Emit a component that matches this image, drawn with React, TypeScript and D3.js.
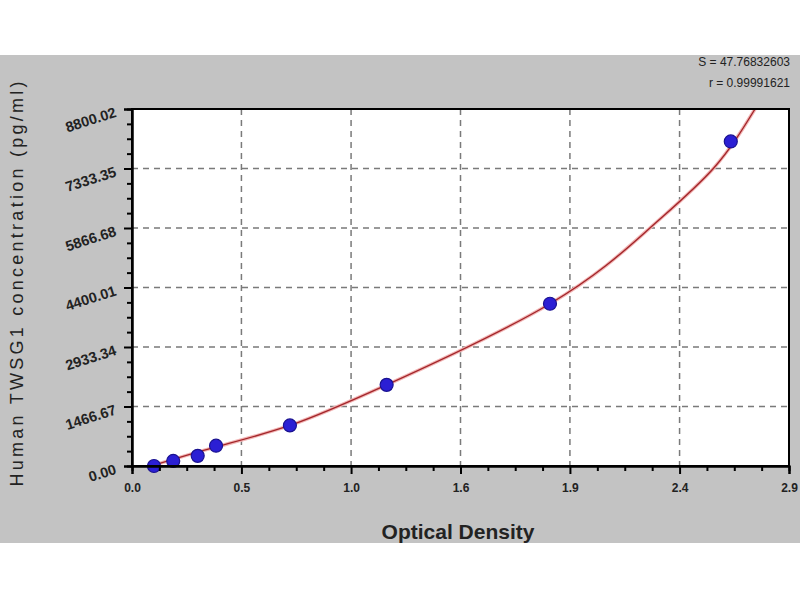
import React, { useEffect, useRef } from "react";
import * as d3 from "d3";

// Standard points (optical density vs concentration)
const odValues = [0.097, 0.182, 0.29, 0.371, 0.697, 1.124, 1.845, 2.643];
const concValues = [0, 125, 250, 500, 1000, 2000, 4000, 8000];

// Fitted curve (ends where it leaves the top of the plot)
const fitOd = [0.097, 0.371, 0.697, 1.124, 1.845, 2.286, 2.566, 2.75];
const fitConc = [20, 470, 1000, 2000, 4000, 5866, 7333, 8800.02];

// Axis ticks
const xTickValues = [0, 0.483, 0.967, 1.45, 1.933, 2.417, 2.9];
const xTickLabels = ["0.0", "0.5", "1.0", "1.6", "1.9", "2.4", "2.9"];
const yTickValues = [0, 1466.67, 2933.34, 4400.01, 5866.68, 7333.35, 8800.02];
const yTickLabels = ["0.00", "1466.67", "2933.34", "4400.01", "5866.68", "7333.35", "8800.02"];

const statLines = ["S = 47.76832603", "r = 0.99991621"];

const App: React.FC = () => {
  const svgRef = useRef<SVGSVGElement | null>(null);

  useEffect(() => {
    const width = 800;
    const height = 600;
    const plot = { left: 132, top: 109, right: 789, bottom: 466 };

    const svg = d3.select(svgRef.current).attr("width", width).attr("height", height);
    svg.selectAll("*").remove();

    // gray frame background
    svg.append("rect").attr("x", 0).attr("y", 0).attr("width", width).attr("height", height).attr("fill", "#fff");
    svg.append("rect").attr("x", 0).attr("y", 55).attr("width", width).attr("height", 488).attr("fill", "#c3c3c3");
    svg
      .append("rect")
      .attr("x", plot.left)
      .attr("y", plot.top)
      .attr("width", plot.right - plot.left)
      .attr("height", plot.bottom - plot.top)
      .attr("fill", "#fff");

    const xScale = d3.scaleLinear().domain([0, 2.9]).range([plot.left, plot.right]);
    const yScale = d3.scaleLinear().domain([0, 8800.02]).range([plot.bottom, plot.top]);

    // dashed grid
    const grid = svg.append("g").attr("stroke", "#7a7a7a").attr("stroke-width", 1.5).attr("stroke-dasharray", "6,5");
    xTickValues.slice(1, -1).forEach((v) => {
      grid.append("line").attr("x1", xScale(v)).attr("x2", xScale(v)).attr("y1", plot.top).attr("y2", plot.bottom);
    });
    yTickValues.slice(1, -1).forEach((v) => {
      grid.append("line").attr("x1", plot.left).attr("x2", plot.right).attr("y1", yScale(v)).attr("y2", yScale(v));
    });

    // fitted curve
    const fitData = fitOd.map((d, i) => [d, fitConc[i]] as [number, number]);
    const line = d3
      .line<[number, number]>()
      .x((d) => xScale(d[0]))
      .y((d) => yScale(d[1]))
      .curve(d3.curveNatural);
    svg.append("path").datum(fitData).attr("fill", "none").attr("stroke", "#f2b6b6").attr("stroke-width", 3.5).attr("d", line);
    svg.append("path").datum(fitData).attr("fill", "none").attr("stroke", "#a3262a").attr("stroke-width", 1.4).attr("d", line);

    // standard points
    svg
      .append("g")
      .selectAll("circle")
      .data(odValues)
      .join("circle")
      .attr("cx", (d) => xScale(d))
      .attr("cy", (d, i) => yScale(concValues[i]))
      .attr("r", 6.5)
      .attr("fill", "#2b1fd4")
      .attr("stroke", "#1a1290")
      .attr("stroke-width", 1.2);

    // plot border
    svg
      .append("rect")
      .attr("x", plot.left)
      .attr("y", plot.top)
      .attr("width", plot.right - plot.left)
      .attr("height", plot.bottom - plot.top)
      .attr("fill", "none")
      .attr("stroke", "#000")
      .attr("stroke-width", 2);

    // minor ticks, three between each pair of labelled ticks
    const xMinor: number[] = [];
    const yMinor: number[] = [];
    for (let i = 0; i < xTickValues.length - 1; i++) {
      const step = (xTickValues[i + 1] - xTickValues[i]) / 4;
      for (let k = 1; k < 4; k++) xMinor.push(xTickValues[i] + step * k);
    }
    for (let i = 0; i < yTickValues.length - 1; i++) {
      const step = (yTickValues[i + 1] - yTickValues[i]) / 4;
      for (let k = 1; k < 4; k++) yMinor.push(yTickValues[i] + step * k);
    }

    const xAxisMinor = svg
      .append("g")
      .attr("transform", `translate(0, ${plot.bottom})`)
      .call(d3.axisBottom(xScale).tickValues(xMinor).tickSize(5).tickFormat(() => ""));
    const yAxisMinor = svg
      .append("g")
      .attr("transform", `translate(${plot.left}, 0)`)
      .call(d3.axisLeft(yScale).tickValues(yMinor).tickSize(5).tickFormat(() => ""));

    const xAxis = svg
      .append("g")
      .attr("transform", `translate(0, ${plot.bottom})`)
      .call(
        d3
          .axisBottom(xScale)
          .tickValues(xTickValues)
          .tickSize(8)
          .tickPadding(9)
          .tickFormat((d, i) => xTickLabels[i])
      );
    const yAxis = svg
      .append("g")
      .attr("transform", `translate(${plot.left}, 0)`)
      .call(d3.axisLeft(yScale).tickValues(yTickValues).tickSize(8).tickFormat((d, i) => yTickLabels[i]));

    [xAxisMinor, yAxisMinor, xAxis, yAxis].forEach((g) => {
      g.select(".domain").attr("stroke", "#000").attr("stroke-width", 2);
      g.selectAll(".tick line").attr("stroke", "#000").attr("stroke-width", 2);
    });

    xAxis
      .selectAll(".tick text")
      .attr("font-family", "Liberation Sans, Arial, sans-serif")
      .attr("font-size", 12)
      .attr("font-weight", "bold")
      .attr("fill", "#222");

    // slanted y labels
    yAxis
      .selectAll(".tick text")
      .attr("font-family", "Liberation Sans, Arial, sans-serif")
      .attr("font-size", 14.5)
      .attr("font-weight", "bold")
      .attr("fill", "#222")
      .attr("x", -17)
      .attr("dy", "0.5em")
      .attr("text-anchor", "end")
      .attr("transform", "rotate(-18, -17, 0)");

    // axis titles
    svg
      .append("text")
      .attr("x", 458)
      .attr("y", 539)
      .attr("text-anchor", "middle")
      .attr("font-family", "Liberation Sans, Arial, sans-serif")
      .attr("font-size", 21)
      .attr("font-weight", "bold")
      .attr("fill", "#222")
      .text("Optical Density");

    svg
      .append("text")
      .attr("transform", "translate(23, 284) rotate(-90)")
      .attr("text-anchor", "middle")
      .attr("font-family", "Liberation Sans, Arial, sans-serif")
      .attr("font-size", 18)
      .attr("fill", "#222")
      .attr("textLength", 405)
      .attr("lengthAdjust", "spacing")
      .text("Human TWSG1 concentration (pg/ml)");

    // fit statistics
    svg
      .append("g")
      .selectAll("text")
      .data(statLines)
      .join("text")
      .attr("x", 790)
      .attr("y", (d, i) => 66 + i * 21)
      .attr("text-anchor", "end")
      .attr("font-family", "Liberation Sans, Arial, sans-serif")
      .attr("font-size", 12)
      .attr("fill", "#222")
      .text((d) => d);
  }, []);

  return (
    <div style={{ position: "absolute", left: 0, top: 0 }}>
      <svg ref={svgRef}></svg>
    </div>
  );
};

export default App;
